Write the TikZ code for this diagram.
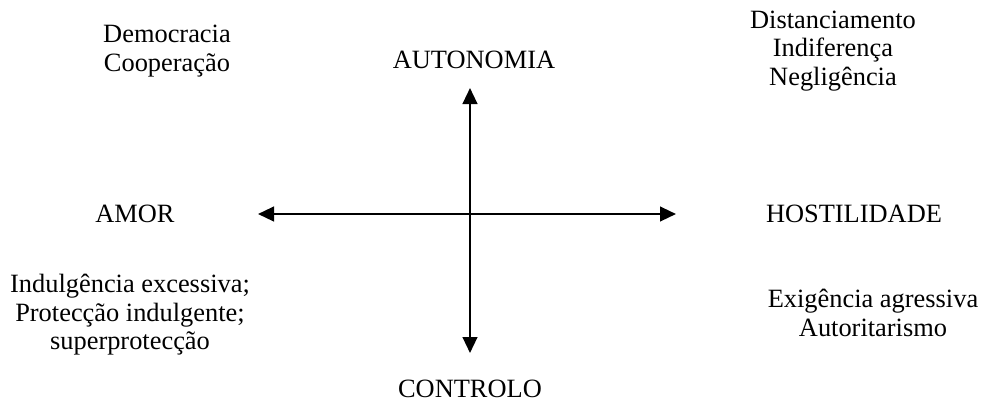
\documentclass[tikz,border=0pt]{standalone}
\usepackage{fontspec}
\setmainfont{Liberation Serif}
\usetikzlibrary{arrows.meta}

\newcommand*{\xleft}{258}
\newcommand*{\xright}{676}
\newcommand*{\ytop}{88}
\newcommand*{\ybot}{353}

\begin{document}
\begin{tikzpicture}
[
	label/.style={align=center,inner sep=0pt,font=\fontsize{19.8}{21.3}\selectfont},
	axis/.style={line width=1.7pt,{Triangle[length=12pt,width=11pt]}-{Triangle[length=12pt,width=11pt]}},
	x=0.75pt,y=-0.75pt
]
	\useasboundingbox (0,0) rectangle (983,405);

	% axes
	\coordinate (left) at (\xleft,214);
	\coordinate (right) at (\xright,214);
	\coordinate (top) at (470,\ytop);
	\coordinate (bottom) at (470,\ybot);
	\draw[axis] (left) -- (right);
	\draw[axis] (top) -- (bottom);

	\node[label] at (474,60) (autonomia) {AUTONOMIA};
	\node[label] at (470,389) (controlo) {CONTROLO};
	\node[label] at (135,214) (amor) {AMOR};
	\node[label] at (854,214) (hostilidade) {HOSTILIDADE};

	\node[label] at (167,51) (democracia) {Democracia\\Cooperação};
	\node[label] at (833,51) (distanciamento) {Distanciamento\\Indiferença\\Negligência};
	\node[label] at (130,315) (indulgencia) {Indulgência excessiva;\\Protecção indulgente;\\superprotecção};
	\node[label] at (873,313) (exigencia) {Exigência agressiva\\Autoritarismo};

\end{tikzpicture}
\end{document}
